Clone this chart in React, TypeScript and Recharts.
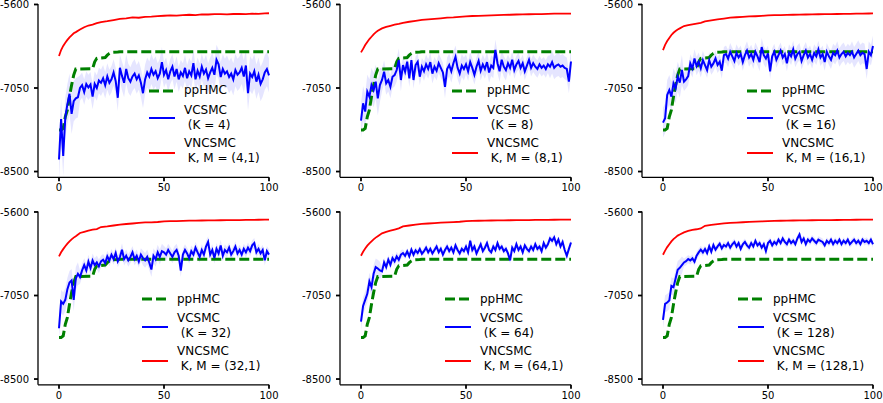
import { ComposedChart, Line, Area, XAxis, YAxis } from "recharts";

// iteration index (x categories)
const ITERS = Array.from({ length: 101 }, (_, i) => i);
const X_TICKS = [0, 50, 100];
const Y_TICKS = [-8500, -7050, -5600];

// ppHMC baseline (same in every panel)
const HMC_X = [0, 1, 2, 3, 4, 5, 6, 7, 8, 16, 17, 18, 22, 23, 24, 25, 28, 29, 100];
const HMC_Y = [-7778, -7778, -7750, -7550, -7430, -7200, -7000, -6825, -6720, -6715, -6595, -6535, -6520, -6480, -6450, -6432, -6425, -6420, -6420];

// VNCSMC sample points
const RED_X = [0, 1, 2, 3, 4, 5, 6, 7, 8, 10, 12, 14, 16, 18, 20, 23, 26, 29, 32, 35, 38, 41, 44, 47, 50, 53, 56, 59, 62, 65, 68, 71, 74, 77, 80, 83, 86, 89, 92, 95, 98, 100];

const RED_4 = [-6495, -6390, -6320, -6265, -6215, -6170, -6135, -6100, -6080, -6035, -5995, -5965, -5950, -5925, -5905, -5890, -5870, -5850, -5840, -5825, -5830, -5815, -5812, -5802, -5796, -5790, -5795, -5784, -5778, -5785, -5772, -5774, -5766, -5768, -5772, -5765, -5762, -5766, -5760, -5764, -5755, -5752];
const RED_8 = [-6432, -6370, -6305, -6250, -6200, -6160, -6120, -6085, -6056, -6016, -5990, -5970, -5950, -5935, -5918, -5900, -5885, -5868, -5858, -5850, -5840, -5830, -5824, -5815, -5808, -5800, -5798, -5792, -5788, -5784, -5782, -5778, -5774, -5772, -5770, -5766, -5768, -5762, -5760, -5758, -5760, -5758];
const RED_16 = [-6391, -6300, -6235, -6180, -6130, -6091, -6060, -6035, -6015, -5975, -5960, -5945, -5932, -5920, -5895, -5875, -5858, -5845, -5830, -5822, -5815, -5808, -5804, -5798, -5790, -5786, -5784, -5782, -5778, -5776, -5774, -5772, -5770, -5768, -5766, -5765, -5763, -5762, -5760, -5758, -5757, -5756];
const RED_32 = [-6371, -6300, -6245, -6195, -6150, -6110, -6075, -6045, -6020, -5965, -5945, -5925, -5905, -5896, -5861, -5850, -5835, -5818, -5809, -5800, -5790, -5782, -5780, -5774, -5762, -5760, -5758, -5754, -5751, -5750, -5748, -5745, -5746, -5744, -5742, -5740, -5740, -5738, -5736, -5735, -5734, -5733];
const RED_64 = [-6360, -6290, -6235, -6185, -6145, -6110, -6075, -6045, -6020, -5970, -5945, -5925, -5905, -5885, -5850, -5835, -5820, -5808, -5800, -5794, -5786, -5780, -5776, -5770, -5758, -5756, -5752, -5750, -5748, -5746, -5745, -5744, -5742, -5741, -5740, -5738, -5737, -5736, -5735, -5734, -5733, -5733];
const RED_128 = [-6342, -6270, -6210, -6160, -6110, -6070, -6040, -6010, -5990, -5954, -5930, -5912, -5900, -5885, -5840, -5825, -5812, -5798, -5790, -5784, -5778, -5772, -5768, -5764, -5758, -5756, -5752, -5750, -5748, -5746, -5745, -5744, -5742, -5741, -5740, -5739, -5738, -5736, -5735, -5734, -5734, -5733];

// VCSMC, one value per iteration
const VC_4 = [
  -8290, -7590, -8230, -7560, -7330, -7150, -7500, -7280, -7230, -7210,
  -7050, -7000, -7120, -6980, -7040, -6990, -7200, -6980, -7050, -6920,
  -6960, -6880, -7000, -6850, -6960, -6900, -6780, -6930, -7220, -6700,
  -6840, -6960, -6720, -6880, -6940, -6850, -6800, -6900, -6830, -6960,
  -7140, -6900, -6780, -6850, -6720, -6820, -6760, -6880, -6800, -6600,
  -6820, -6740, -6900, -6760, -6680, -6850, -6720, -6900, -6780, -6840,
  -6700, -6880, -6760, -6830, -6620, -6900, -6750, -6850, -6680, -6800,
  -6730, -6880, -6780, -6700, -6820, -6560, -6640, -6860, -6720, -6800,
  -6760, -6860, -6800, -6900, -6740, -6820, -6780, -6700, -6850, -6660,
  -7140, -6800, -6860, -6760, -6940, -6820, -6980, -6900, -6780, -6720,
  -6830,
];
const VC_8 = [
  -7616, -7316, -7460, -7114, -7200, -6998, -7085, -6940, -7229, -6998,
  -6911, -6767, -6969, -6911, -7027, -6854, -6825, -6738, -6565, -6911,
  -6651, -6767, -6594, -6883, -6565, -6911, -6651, -6594, -6854, -6680,
  -6760, -6640, -6720, -6600, -6800, -6680, -6750, -6620, -6700, -6780,
  -7030, -6720, -6650, -6760, -6620, -6510, -6700, -6800, -6660, -6720,
  -6640, -6760, -6600, -6700, -6820, -6680, -6580, -6750, -6640, -6720,
  -6600, -6780, -6660, -6700, -6390, -6620, -6760, -6560, -6680, -6740,
  -6620, -6700, -6560, -6740, -6640, -6580, -6700, -6620, -6760, -6660,
  -6560, -6700, -6620, -6680, -6720, -6640, -6700, -6660, -6720, -6640,
  -6680, -6600, -6700, -6660, -6640, -6680, -6660, -6700, -6720, -6940,
  -6590,
];
const VC_16 = [
  -7651, -7576, -7171, -7085, -7200, -6969, -7056, -6854, -6958, -6738,
  -6940, -6900, -6842, -6623, -6709, -6536, -6669, -6594, -6709, -6565,
  -6651, -6738, -6565, -6680, -6623, -6536, -6651, -6594, -6750, -6478,
  -6460, -6540, -6420, -6500, -6580, -6440, -6520, -6460, -6600, -6480,
  -6400, -6520, -6460, -6560, -6420, -6500, -6600, -6340, -6480, -6540,
  -6450, -6760, -6500, -6420, -6560, -6480, -6400, -6520, -6460, -6620,
  -6440, -6500, -6380, -6540, -6460, -6420, -6580, -6480, -6400, -6520,
  -6460, -6560, -6440, -6500, -6380, -6520, -6460, -6600, -6420, -6500,
  -6560, -6440, -6480, -6400, -6520, -6460, -6420, -6500, -6440, -6480,
  -6420, -6520, -6460, -6400, -6480, -6440, -6460, -6720, -6420, -6480,
  -6320,
];
const VC_32 = [
  -7618, -7154, -7195, -7125, -6940, -6824, -6789, -7125, -6754, -6673,
  -6731, -6615, -6522, -6615, -6464, -6574, -6441, -6522, -6476, -6545,
  -6458, -6429, -6487, -6371, -6441, -6342, -6418, -6313, -6458, -6383,
  -6255, -6420, -6360, -6440, -6380, -6300, -6420, -6360, -6460, -6340,
  -6400, -6440, -6380, -6480, -6600, -6360, -6420, -6300, -6380, -6280,
  -6300, -6340, -6260, -6320, -6380, -6300, -6260, -6360, -6620, -6340,
  -6260, -6320, -6400, -6280, -6340, -6220, -6300, -6380, -6260, -6340,
  -6200, -6120, -6340, -6260, -6400, -6240, -6320, -6180, -6360, -6260,
  -6300, -6220, -6340, -6280, -6200, -6320, -6260, -6340, -6240, -6300,
  -6220, -6280, -6180, -6140, -6300, -6240, -6320, -6260, -6440, -6280,
  -6340,
];
const VC_64 = [
  -7502, -7230, -7125, -7021, -6806, -6905, -6673, -6557, -6580, -6615,
  -6632, -6476, -6557, -6429, -6516, -6400, -6458, -6371, -6429, -6342,
  -6313, -6360, -6284, -6371, -6255, -6342, -6267, -6313, -6244, -6325,
  -6280, -6220, -6300, -6240, -6320, -6260, -6200, -6300, -6240, -6340,
  -6260, -6200, -6280, -6220, -6300, -6180, -6260, -6320, -6240, -6280,
  -6200, -6300, -6100, -6260, -6200, -6320, -6240, -6160, -6280, -6220,
  -6140, -6260, -6300, -6200, -6260, -6140, -6240, -6200, -6280, -6240,
  -6320, -6440, -6220, -6280, -6160, -6260, -6200, -6300, -6180, -6240,
  -6280, -6200, -6260, -6160, -6240, -6200, -6280, -6140, -6220, -6160,
  -6060, -6100, -6040, -6160, -6080, -6200, -6120, -6260, -6360, -6240,
  -6130,
];
const VC_128 = [
  -7473, -7195, -7172, -7137, -6882, -6905, -6754, -6603, -6569, -6522,
  -6476, -6453, -6418, -6441, -6406, -6464, -6360, -6302, -6255, -6302,
  -6244, -6313, -6197, -6290, -6174, -6255, -6197, -6151, -6232, -6174,
  -6200, -6140, -6220, -6160, -6120, -6200, -6140, -6240, -6160, -6120,
  -6180, -6220, -6140, -6200, -6100, -6180, -6140, -6220, -6160, -6280,
  -6140, -6100, -6180, -6120, -6160, -6080, -6140, -6060, -6120, -6160,
  -6080, -6140, -6100, -6160, -6060, -5990, -6120, -6060, -6160, -6080,
  -6120, -6060, -6100, -6140, -6080, -6100, -6120, -6180, -6100, -6140,
  -6080, -6160, -6100, -6140, -6080, -6160, -6100, -6140, -6080, -6160,
  -6120, -6080, -6140, -6100, -6160, -6080, -6120, -6100, -6140, -6080,
  -6160,
];

// VCSMC band half-width, one per block of 10 iterations
const SP_4 = [350, 220, 230, 250, 260, 220, 230, 260, 280, 300, 300];
const SP_8 = [300, 200, 150, 170, 200, 170, 180, 150, 150, 200, 250];
const SP_16 = [260, 160, 140, 150, 160, 140, 150, 150, 160, 180, 180];
const SP_32 = [200, 120, 100, 110, 130, 110, 100, 100, 90, 90, 90];
const SP_64 = [150, 80, 60, 60, 60, 60, 60, 60, 60, 60, 60];
const SP_128 = [150, 70, 60, 60, 60, 60, 60, 60, 60, 60, 60];

const FONT = "'DejaVu Sans', sans-serif";

const PANELS = [
  { k: "4", vc: VC_4, sp: SP_4, red: RED_4, left: 0, top: 0, row: 0, lx: 149 },
  { k: "8", vc: VC_8, sp: SP_8, red: RED_8, left: 302, top: 0, row: 0, lx: 150 },
  { k: "16", vc: VC_16, sp: SP_16, red: RED_16, left: 604, top: 0, row: 0, lx: 143 },
  { k: "32", vc: VC_32, sp: SP_32, red: RED_32, left: 0, top: 207, row: 1, lx: 142 },
  { k: "64", vc: VC_64, sp: SP_64, red: RED_64, left: 302, top: 207, row: 1, lx: 143 },
  { k: "128", vc: VC_128, sp: SP_128, red: RED_128, left: 604, top: 207, row: 1, lx: 134 },
];

function Handle({ x, y, color, dash, width }: any) {
  return (
    <svg style={{ position: "absolute", left: x, top: y - 4 }} width={27} height={8}>
      <line x1={0} y1={4} x2={26} y2={4} stroke={color} strokeWidth={width} strokeDasharray={dash} />
    </svg>
  );
}

function PanelLegend({ x, y, k }: { x: number; y: number; k: string }) {
  const text = { position: "absolute" as const, left: x + 35, fontFamily: FONT, fontSize: 12, lineHeight: "15px", whiteSpace: "pre" as const, color: "#000" };
  return (
    <>
      <Handle x={x} y={y} color="#008000" dash="10 4" width={3} />
      <div style={{ ...text, top: y - 7.5 }}>ppHMC</div>
      <Handle x={x} y={y + 27.6} color="#0000ff" width={2} />
      <div style={{ ...text, top: y + 11.8 }}>{`VCSMC\n (K = ${k})`}</div>
      <Handle x={x} y={y + 62} color="#ff0000" width={2} />
      <div style={{ ...text, top: y + 45.1 }}>{`VNCSMC\n K, M = (${k},1)`}</div>
    </>
  );
}

function Panel({ p }: { p: (typeof PANELS)[number] }) {
  const rows = ITERS.map((x) => {
    const v = p.vc[x];
    const s = p.sp[Math.floor(x / 10)];
    const ri = RED_X.indexOf(x);
    const hi = HMC_X.indexOf(x);
    return {
      x,
      vc: v,
      band: [v - s, v + s],
      red: ri >= 0 ? p.red[ri] : null,
      hmc: hi >= 0 ? HMC_Y[hi] : null,
    };
  });
  const h = p.row === 0 ? 200 : 196;
  const mt = p.row === 0 ? 3.9 : 4.4;
  const xh = h - mt - 173.4;
  const tick = { fill: "#000", fontSize: 10, fontFamily: FONT };
  return (
    <div style={{ position: "absolute", left: p.left, top: p.top, width: 290, height: h }}>
      <ComposedChart width={290} height={h} data={rows} margin={{ top: mt, right: 21, bottom: 0, left: 0 }}>
        <XAxis
          dataKey="x"
          type="number"
          domain={[-10, 100]}
          ticks={X_TICKS}
          interval={0}
          height={xh}
          tick={tick}
          tickSize={4}
          tickMargin={3}
          axisLine={{ stroke: "#000", strokeWidth: 1.3 }}
          tickLine={{ stroke: "#000", strokeWidth: 1.8 }}
        />
        <YAxis
          type="number"
          domain={[-8600, -5590]}
          ticks={Y_TICKS}
          interval={0}
          width={38}
          allowDataOverflow
          tick={tick}
          tickSize={4}
          tickMargin={5}
          axisLine={{ stroke: "#000", strokeWidth: 1.3 }}
          tickLine={{ stroke: "#000", strokeWidth: 1.8 }}
        />
        <Area dataKey="band" stroke="none" fill="#0000ff" fillOpacity={0.1} isAnimationActive={false} />
        <Line dataKey="hmc" stroke="#008000" strokeWidth={3} strokeDasharray="10 4" dot={false} connectNulls isAnimationActive={false} />
        <Line dataKey="vc" stroke="#0000ff" strokeWidth={2} dot={false} isAnimationActive={false} />
        <Line dataKey="red" stroke="#ff0000" strokeWidth={1.8} dot={false} connectNulls isAnimationActive={false} />
      </ComposedChart>
      <PanelLegend x={p.lx} y={p.row === 0 ? 90.7 : 92} k={p.k} />
    </div>
  );
}

export default function App() {
  return (
    <div style={{ position: "absolute", left: 0, top: 0, width: 883, height: 403, overflow: "hidden", background: "#fff" }}>
      {PANELS.map((p) => (
        <Panel key={p.k} p={p} />
      ))}
    </div>
  );
}
